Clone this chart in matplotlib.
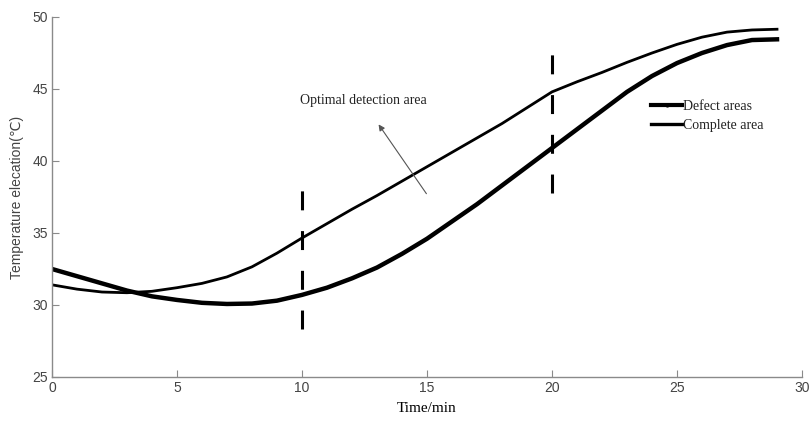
import matplotlib
matplotlib.use("Agg")
import matplotlib.pyplot as plt
from matplotlib.lines import Line2D

# values, one per minute
time_min = list(range(0, 30))
defect_areas = [32.5, 32.0, 31.5, 31.0, 30.6, 30.35, 30.15, 30.07, 30.1, 30.3,
                30.7, 31.2, 31.85, 32.6, 33.55, 34.6, 35.8, 37.0, 38.3, 39.6,
                40.9, 42.2, 43.5, 44.8, 45.9, 46.8, 47.5, 48.05, 48.4, 48.45]
complete_area = [31.4, 31.1, 30.9, 30.85, 30.95, 31.2, 31.5, 31.95, 32.65, 33.6,
                 34.65, 35.65, 36.65, 37.6, 38.6, 39.6, 40.6, 41.6, 42.6, 43.7,
                 44.8, 45.5, 46.15, 46.85, 47.5, 48.1, 48.6, 48.95, 49.1, 49.15]

x_ticks = [0, 5, 10, 15, 20, 25, 30]
y_ticks = [25, 30, 35, 40, 45, 50]

# boundaries of the optimal detection window
window_x = [10, 20]
window_y = [(28.3, 38.3), (37.8, 47.6)]

serif = ["Liberation Serif", "DejaVu Serif"]
sans = ["Liberation Sans", "DejaVu Sans"]
axis_grey = "#8a8a8a"

fig = plt.figure(figsize=(8.12, 4.25), dpi=100)
ax = fig.add_axes([0.064, 0.113, 0.9237, 0.847])

ax.plot(time_min, defect_areas, color="black", lw=3.2, solid_joinstyle="round")
ax.plot(time_min, complete_area, color="black", lw=2.0, solid_joinstyle="round")

for xv, (y0, y1) in zip(window_x, window_y):
    ax.plot([xv, xv], [y0, y1], color="black", lw=2.2, linestyle=(0, (6.2, 6.8)))

ax.annotate("", xy=(13.0, 42.7), xytext=(15.04, 37.57),
            arrowprops=dict(arrowstyle="-|>", color="#555555", lw=0.8,
                            mutation_scale=9))
ax.text(12.44, 44.17, "Optimal detection area", ha="center", va="center",
        fontsize=10, family=serif, color="#222222")

ax.set_xlim(0, 30)
ax.set_ylim(25, 50)
ax.set_xticks(x_ticks)
ax.set_yticks(y_ticks)

for side in ["top", "right"]:
    ax.spines[side].set_visible(False)
for side in ["left", "bottom"]:
    ax.spines[side].set_color(axis_grey)
    ax.spines[side].set_linewidth(1.0)

ax.tick_params(direction="in", length=5, width=0.8, color=axis_grey,
               labelcolor="#444444", labelsize=10, pad=3)
for lab in ax.get_xticklabels() + ax.get_yticklabels():
    lab.set_family(sans)

ax.set_xlabel("Time/min", fontsize=11, family=serif, color="black", labelpad=5)
ax.set_ylabel("Temperature elecation(\u2103)", fontsize=10, family=sans,
              color="#444444", labelpad=6)

handles = [Line2D([], [], color="black", lw=3.0, marker=".", markersize=4),
           Line2D([], [], color="black", lw=2.4)]
leg = ax.legend(handles, ["Defect areas", "Complete area"], loc="upper left",
                bbox_to_anchor=(0.79, 0.79), frameon=False,
                prop={"family": serif, "size": 10}, handlelength=2.2,
                handletextpad=0.05, labelspacing=0.45, borderpad=0, numpoints=1)
for txt in leg.get_texts():
    txt.set_color("#222222")

fig.savefig("out.png", dpi=100)
